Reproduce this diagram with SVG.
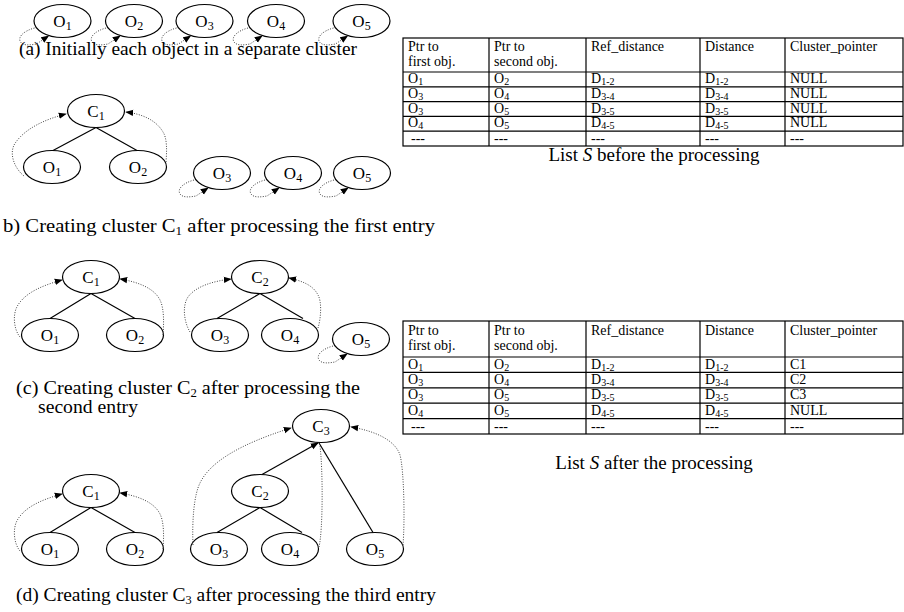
<svg xmlns="http://www.w3.org/2000/svg" width="904" height="612" viewBox="0 0 904 612">
<defs>
<style>
.nd{fill:#fff;stroke:#000;stroke-width:1.2}
text{font-family:"Liberation Serif","Times New Roman",serif;fill:#000}
.lbl{font-size:17px;text-anchor:middle}
.sub{font-size:12px}
.cap{font-size:19px}
.solid{stroke:#000;stroke-width:1.2;fill:none}
.dot{stroke:#444;stroke-width:1;stroke-dasharray:1 1.5;fill:none}
.tl{stroke:#000;stroke-width:1.2;fill:none}
.th{font-size:14px}
.td{font-size:14px}
.tsub{font-size:10px}
</style>
<marker id="ah" viewBox="0 0 10 10" refX="9" refY="5" markerWidth="8" markerHeight="8" markerUnits="userSpaceOnUse" orient="auto"><path d="M0,1 L10,5 L0,9 z" fill="#000"/></marker>
<path id="loop" d="M-28,7 C-39,10 -45,16 -42,21 C-39,25 -32,24 -26,23 L-14,15"/>
</defs>

<!-- (a) nodes -->
<g id="a-O1"><ellipse class="nd" cx="62.5" cy="21" rx="28.5" ry="16.5"/><text class="lbl" x="62.5" y="27">O<tspan class="sub" dy="3">1</tspan></text></g>
<g id="a-O2"><ellipse class="nd" cx="134" cy="21" rx="28.5" ry="16.5"/><text class="lbl" x="134" y="27">O<tspan class="sub" dy="3">2</tspan></text></g>
<g id="a-O3"><ellipse class="nd" cx="204.5" cy="21" rx="28.5" ry="16.5"/><text class="lbl" x="204.5" y="27">O<tspan class="sub" dy="3">3</tspan></text></g>
<g id="a-O4"><ellipse class="nd" cx="276" cy="21" rx="28.5" ry="16.5"/><text class="lbl" x="276" y="27">O<tspan class="sub" dy="3">4</tspan></text></g>
<g id="a-O5"><ellipse class="nd" cx="361.5" cy="21" rx="28.5" ry="16.5"/><text class="lbl" x="361.5" y="27">O<tspan class="sub" dy="3">5</tspan></text></g>

<!-- (b) nodes -->
<g id="b-C1"><ellipse class="nd" cx="96" cy="111" rx="28.5" ry="16.5"/><text class="lbl" x="96" y="117">C<tspan class="sub" dy="3">1</tspan></text></g>
<g id="b-O1"><ellipse class="nd" cx="52" cy="167" rx="28.5" ry="16.5"/><text class="lbl" x="52" y="173">O<tspan class="sub" dy="3">1</tspan></text></g>
<g id="b-O2"><ellipse class="nd" cx="138" cy="167" rx="28.5" ry="16.5"/><text class="lbl" x="138" y="173">O<tspan class="sub" dy="3">2</tspan></text></g>
<g id="b-O3"><ellipse class="nd" cx="222" cy="173" rx="28.5" ry="16.5"/><text class="lbl" x="222" y="179">O<tspan class="sub" dy="3">3</tspan></text></g>
<g id="b-O4"><ellipse class="nd" cx="293" cy="173" rx="28.5" ry="16.5"/><text class="lbl" x="293" y="179">O<tspan class="sub" dy="3">4</tspan></text></g>
<g id="b-O5"><ellipse class="nd" cx="362" cy="173" rx="28.5" ry="16.5"/><text class="lbl" x="362" y="179">O<tspan class="sub" dy="3">5</tspan></text></g>

<!-- (c) nodes -->
<g id="c-C1"><ellipse class="nd" cx="91" cy="277" rx="28.5" ry="16.5"/><text class="lbl" x="91" y="283">C<tspan class="sub" dy="3">1</tspan></text></g>
<g id="c-O1"><ellipse class="nd" cx="50" cy="335" rx="28.5" ry="16.5"/><text class="lbl" x="50" y="341">O<tspan class="sub" dy="3">1</tspan></text></g>
<g id="c-O2"><ellipse class="nd" cx="135" cy="335" rx="28.5" ry="16.5"/><text class="lbl" x="135" y="341">O<tspan class="sub" dy="3">2</tspan></text></g>
<g id="c-C2"><ellipse class="nd" cx="260" cy="277" rx="28.5" ry="16.5"/><text class="lbl" x="260" y="283">C<tspan class="sub" dy="3">2</tspan></text></g>
<g id="c-O3"><ellipse class="nd" cx="220" cy="335" rx="28.5" ry="16.5"/><text class="lbl" x="220" y="341">O<tspan class="sub" dy="3">3</tspan></text></g>
<g id="c-O4"><ellipse class="nd" cx="290" cy="335" rx="28.5" ry="16.5"/><text class="lbl" x="290" y="341">O<tspan class="sub" dy="3">4</tspan></text></g>
<g id="c-O5"><ellipse class="nd" cx="361" cy="339" rx="28.5" ry="16.5"/><text class="lbl" x="361" y="345">O<tspan class="sub" dy="3">5</tspan></text></g>

<!-- (d) nodes -->
<g id="d-C3"><ellipse class="nd" cx="321" cy="426" rx="28.5" ry="16.5"/><text class="lbl" x="321" y="432">C<tspan class="sub" dy="3">3</tspan></text></g>
<g id="d-C1"><ellipse class="nd" cx="91" cy="491" rx="28.5" ry="16.5"/><text class="lbl" x="91" y="497">C<tspan class="sub" dy="3">1</tspan></text></g>
<g id="d-C2"><ellipse class="nd" cx="260" cy="491" rx="28.5" ry="16.5"/><text class="lbl" x="260" y="497">C<tspan class="sub" dy="3">2</tspan></text></g>
<g id="d-O1"><ellipse class="nd" cx="50" cy="549" rx="28.5" ry="16.5"/><text class="lbl" x="50" y="555">O<tspan class="sub" dy="3">1</tspan></text></g>
<g id="d-O2"><ellipse class="nd" cx="135" cy="549" rx="28.5" ry="16.5"/><text class="lbl" x="135" y="555">O<tspan class="sub" dy="3">2</tspan></text></g>
<g id="d-O3"><ellipse class="nd" cx="219" cy="549" rx="28.5" ry="16.5"/><text class="lbl" x="219" y="555">O<tspan class="sub" dy="3">3</tspan></text></g>
<g id="d-O4"><ellipse class="nd" cx="290" cy="549" rx="28.5" ry="16.5"/><text class="lbl" x="290" y="555">O<tspan class="sub" dy="3">4</tspan></text></g>
<g id="d-O5"><ellipse class="nd" cx="375" cy="549" rx="28.5" ry="16.5"/><text class="lbl" x="375" y="555">O<tspan class="sub" dy="3">5</tspan></text></g>

<!-- connectors -->
<g id="connectors">
  <use href="#loop" class="dot" marker-end="url(#ah)" transform="translate(62.5,21)"/>
  <use href="#loop" class="dot" marker-end="url(#ah)" transform="translate(134,21)"/>
  <use href="#loop" class="dot" marker-end="url(#ah)" transform="translate(204.5,21)"/>
  <use href="#loop" class="dot" marker-end="url(#ah)" transform="translate(276,21)"/>
  <use href="#loop" class="dot" marker-end="url(#ah)" transform="translate(361.5,21)"/>
  <path class="solid" d="M96,127.5 L53,150.5 M96,127.5 L137,150.5"/>
  <path class="dot" marker-end="url(#ah)" d="M24,176 C14,168 8,152 16,142 C26,128 46,119 66,114"/>
  <path class="dot" marker-end="url(#ah)" d="M166,162 C167,150 167,138 163,132 C156,120 142,114 126,112"/>
  <use href="#loop" class="dot" marker-end="url(#ah)" transform="translate(222,173)"/>
  <use href="#loop" class="dot" marker-end="url(#ah)" transform="translate(293,173)"/>
  <use href="#loop" class="dot" marker-end="url(#ah)" transform="translate(362,173)"/>
  <path class="solid" d="M91,293.5 L50,318.5 M91,293.5 L135,318.5"/>
  <path class="dot" marker-end="url(#ah)" d="M20,337 C14,330 12,314 18,305 C26,292 44,285 62,280"/>
  <path class="dot" marker-end="url(#ah)" d="M163,335 C164,322 164,308 160,300 C154,288 138,282 120,279"/>
  <path class="solid" d="M260,293.5 L217,318.5 M260,293.5 L303,318.5"/>
  <path class="dot" marker-end="url(#ah)" d="M190,332 C184,322 182,306 188,297 C196,286 214,281 231,279"/>
  <path class="dot" marker-end="url(#ah)" d="M318,328 C321,318 322,302 318,295 C313,285 302,281 289,278"/>
  <use href="#loop" class="dot" marker-end="url(#ah)" transform="translate(361,339)"/>
  <path class="solid" d="M91,507.5 L50,532.5 M91,507.5 L135,532.5"/>
  <path class="dot" marker-end="url(#ah)" d="M20,551 C14,544 12,528 18,519 C26,506 44,499 62,494"/>
  <path class="dot" marker-end="url(#ah)" d="M163,549 C164,536 164,522 160,514 C154,502 138,496 120,493"/>
  <path class="solid" d="M260,507.5 L217,532.5 M260,507.5 L302,532.5"/>
  <path class="solid" marker-end="url(#ah)" d="M262,474.5 L318,443"/>
  <path class="solid" d="M373,532.5 L319,443"/>
  <path class="dot" marker-end="url(#ah)" d="M193,545 C192,520 194,495 200,483 C210,462 240,444 291,428"/>
  <path class="dot" d="M319,547 C323,530 323,470 320,446"/>
  <path class="dot" marker-end="url(#ah)" d="M403,545 C405,520 404,470 400,455 C395,440 375,431 351,427"/>
</g>

<!-- captions -->
<g id="captions">
  <text class="cap" x="19" y="55" textLength="338" lengthAdjust="spacingAndGlyphs">(a) Initially each object in a separate cluster</text>
  <text class="cap" x="3" y="232" textLength="432" lengthAdjust="spacingAndGlyphs">b) Creating cluster C<tspan class="sub" dy="3">1</tspan><tspan dy="-3"> after processing the first entry</tspan></text>
  <text class="cap" x="16" y="394" textLength="344" lengthAdjust="spacingAndGlyphs">(c) Creating cluster C<tspan class="sub" dy="3">2</tspan><tspan dy="-3"> after processing the</tspan></text>
  <text class="cap" x="38" y="413" textLength="100" lengthAdjust="spacingAndGlyphs">second entry</text>
  <text class="cap" x="16" y="601" textLength="420" lengthAdjust="spacingAndGlyphs">(d) Creating cluster C<tspan class="sub" dy="3">3</tspan><tspan dy="-3"> after processing the third entry</tspan></text>
</g>

<!-- table 1 -->
<g id="table-before">
  <rect class="tl" x="403" y="38" width="500" height="108"/>
  <path class="tl" d="M403,72H903 M403,86.8H903 M403,101.6H903 M403,116.4H903 M403,131.2H903 M489,38V146 M586,38V146 M700,38V146 M785,38V146"/>
  <text class="th" x="408" y="51">Ptr to</text><text class="th" x="408" y="65.5">first obj.</text>
  <text class="th" x="494" y="51">Ptr to</text><text class="th" x="494" y="65.5">second obj.</text>
  <text class="th" x="591" y="51">Ref_distance</text>
  <text class="th" x="705" y="51">Distance</text>
  <text class="th" x="790" y="51">Cluster_pointer</text>
  <text class="td" x="408" y="83">O<tspan class="tsub" dy="2">1</tspan></text><text class="td" x="494" y="83">O<tspan class="tsub" dy="2">2</tspan></text><text class="td" x="591" y="83">D<tspan class="tsub" dy="2">1-2</tspan></text><text class="td" x="705" y="83">D<tspan class="tsub" dy="2">1-2</tspan></text><text class="td" x="790" y="83">NULL</text>
  <text class="td" x="408" y="97.8">O<tspan class="tsub" dy="2">3</tspan></text><text class="td" x="494" y="97.8">O<tspan class="tsub" dy="2">4</tspan></text><text class="td" x="591" y="97.8">D<tspan class="tsub" dy="2">3-4</tspan></text><text class="td" x="705" y="97.8">D<tspan class="tsub" dy="2">3-4</tspan></text><text class="td" x="790" y="97.8">NULL</text>
  <text class="td" x="408" y="112.6">O<tspan class="tsub" dy="2">3</tspan></text><text class="td" x="494" y="112.6">O<tspan class="tsub" dy="2">5</tspan></text><text class="td" x="591" y="112.6">D<tspan class="tsub" dy="2">3-5</tspan></text><text class="td" x="705" y="112.6">D<tspan class="tsub" dy="2">3-5</tspan></text><text class="td" x="790" y="112.6">NULL</text>
  <text class="td" x="408" y="127.4">O<tspan class="tsub" dy="2">4</tspan></text><text class="td" x="494" y="127.4">O<tspan class="tsub" dy="2">5</tspan></text><text class="td" x="591" y="127.4">D<tspan class="tsub" dy="2">4-5</tspan></text><text class="td" x="705" y="127.4">D<tspan class="tsub" dy="2">4-5</tspan></text><text class="td" x="790" y="127.4">NULL</text>
  <text class="td" x="411" y="142.5">---</text><text class="td" x="494" y="142.5">---</text><text class="td" x="591" y="142.5">---</text><text class="td" x="705" y="142.5">---</text><text class="td" x="790" y="142.5">---</text>
  <text class="cap" x="654" y="161" text-anchor="middle" font-size="20">List <tspan font-style="italic">S</tspan> before the processing</text>
</g>

<!-- table 2 -->
<g id="table-after">
  <rect class="tl" x="403" y="321" width="500" height="113"/>
  <path class="tl" d="M403,357H903 M403,372.4H903 M403,387.8H903 M403,403.2H903 M403,418.6H903 M489,321V434 M586,321V434 M700,321V434 M785,321V434"/>
  <text class="th" x="408" y="334.5">Ptr to</text><text class="th" x="408" y="349.5">first obj.</text>
  <text class="th" x="494" y="334.5">Ptr to</text><text class="th" x="494" y="349.5">second obj.</text>
  <text class="th" x="591" y="334.5">Ref_distance</text>
  <text class="th" x="705" y="334.5">Distance</text>
  <text class="th" x="790" y="334.5">Cluster_pointer</text>
  <text class="td" x="408" y="368.5">O<tspan class="tsub" dy="2">1</tspan></text><text class="td" x="494" y="368.5">O<tspan class="tsub" dy="2">2</tspan></text><text class="td" x="591" y="368.5">D<tspan class="tsub" dy="2">1-2</tspan></text><text class="td" x="705" y="368.5">D<tspan class="tsub" dy="2">1-2</tspan></text><text class="td" x="790" y="368.5">C1</text>
  <text class="td" x="408" y="383.9">O<tspan class="tsub" dy="2">3</tspan></text><text class="td" x="494" y="383.9">O<tspan class="tsub" dy="2">4</tspan></text><text class="td" x="591" y="383.9">D<tspan class="tsub" dy="2">3-4</tspan></text><text class="td" x="705" y="383.9">D<tspan class="tsub" dy="2">3-4</tspan></text><text class="td" x="790" y="383.9">C2</text>
  <text class="td" x="408" y="399.3">O<tspan class="tsub" dy="2">3</tspan></text><text class="td" x="494" y="399.3">O<tspan class="tsub" dy="2">5</tspan></text><text class="td" x="591" y="399.3">D<tspan class="tsub" dy="2">3-5</tspan></text><text class="td" x="705" y="399.3">D<tspan class="tsub" dy="2">3-5</tspan></text><text class="td" x="790" y="399.3">C3</text>
  <text class="td" x="408" y="414.7">O<tspan class="tsub" dy="2">4</tspan></text><text class="td" x="494" y="414.7">O<tspan class="tsub" dy="2">5</tspan></text><text class="td" x="591" y="414.7">D<tspan class="tsub" dy="2">4-5</tspan></text><text class="td" x="705" y="414.7">D<tspan class="tsub" dy="2">4-5</tspan></text><text class="td" x="790" y="414.7">NULL</text>
  <text class="td" x="411" y="430.5">---</text><text class="td" x="494" y="430.5">---</text><text class="td" x="591" y="430.5">---</text><text class="td" x="705" y="430.5">---</text><text class="td" x="790" y="430.5">---</text>
  <text class="cap" x="654" y="469" text-anchor="middle" font-size="20">List <tspan font-style="italic">S</tspan> after the processing</text>
</g>
</svg>
